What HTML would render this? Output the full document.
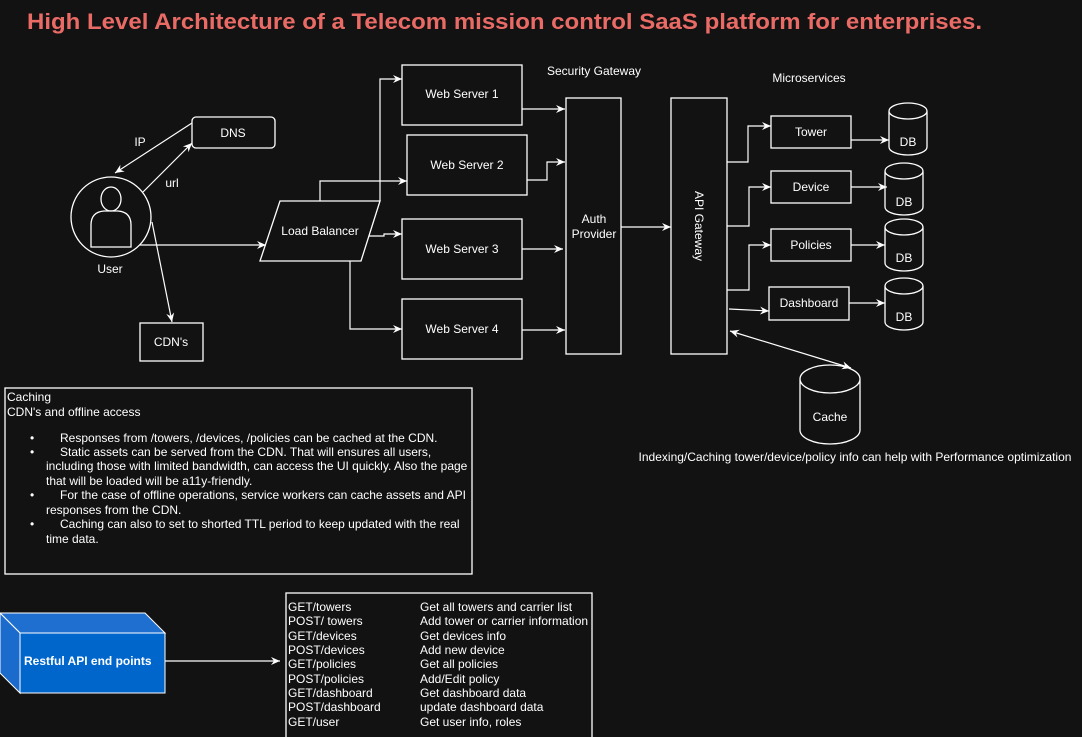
<!DOCTYPE html>
<html><head><meta charset="utf-8"><style>
html,body{margin:0;padding:0;background:#121212;}
svg{display:block;font-family:"Liberation Sans",Arial,sans-serif;}
</style></head><body>
<svg width="1082" height="737" viewBox="0 0 1082 737" xmlns="http://www.w3.org/2000/svg">
<defs>
<marker id="a" markerWidth="10" markerHeight="10" refX="9" refY="5" orient="auto" markerUnits="userSpaceOnUse">
<path d="M0,1 L9,5 L0,9 L3,5 Z" fill="#fff"/></marker>
<marker id="s" markerWidth="10" markerHeight="10" refX="1" refY="5" orient="auto" markerUnits="userSpaceOnUse">
<path d="M10,1 L1,5 L10,9 L7,5 Z" fill="#fff"/></marker>
</defs>
<rect width="1082" height="737" fill="#121212"/>
<text x="27" y="29" fill="#EA6B66" font-size="22" font-weight="bold" textLength="955" lengthAdjust="spacingAndGlyphs">High Level Architecture of a Telecom mission control SaaS platform for enterprises.</text>

<g fill="none" stroke="#fff" stroke-width="1.3">
<!-- DNS -->
<rect x="192" y="117" width="83" height="31" rx="4"/>
<!-- user -->
<circle cx="111" cy="217" r="40"/>
<ellipse cx="111" cy="199" rx="10" ry="12"/>
<path d="M91,247 L91,225 Q91,212 104,211 L118,211 Q131,212 131,225 L131,247 Z"/>
<rect x="140" y="323" width="63" height="38"/>
<polygon points="280,201 380,201 361,261 260,261"/>
<rect x="402" y="65" width="120" height="60"/>
<rect x="407" y="135" width="120" height="60"/>
<rect x="402" y="219" width="120" height="60"/>
<rect x="402" y="299" width="120" height="60"/>
<rect x="566" y="98" width="55" height="256"/>
<rect x="671" y="98" width="56" height="256"/>
<rect x="771" y="116" width="80" height="32"/>
<rect x="771" y="171" width="80" height="32"/>
<rect x="771" y="229" width="80" height="32"/>
<rect x="769" y="287" width="80" height="33"/>
<!-- DBs -->
<path d="M889,111 A19,8 0 0 1 927,111 L927,147 A19,8 0 0 1 889,147 Z M889,111 A19,8 0 0 0 927,111"/>
<path d="M885,171 A19,8 0 0 1 923,171 L923,207 A19,8 0 0 1 885,207 Z M885,171 A19,8 0 0 0 923,171"/>
<path d="M885,227 A19,8 0 0 1 923,227 L923,263 A19,8 0 0 1 885,263 Z M885,227 A19,8 0 0 0 923,227"/>
<path d="M885,286 A19,8 0 0 1 923,286 L923,322 A19,8 0 0 1 885,322 Z M885,286 A19,8 0 0 0 923,286"/>
<path d="M800,379 A30,14 0 0 1 860,379 L860,430 A30,14 0 0 1 800,430 Z M800,379 A30,14 0 0 0 860,379"/>
<!-- boxes -->
<rect x="5" y="388" width="467" height="186"/>
<rect x="286" y="593" width="306" height="150"/>
</g>
<!-- restful -->
<polygon points="0,613 145,613 165,633 20,633" fill="#1F6FD0" stroke="#fff" stroke-width="1"/>
<polygon points="0,613 20,633 20,693 0,673" fill="#1A6BCB" stroke="#fff" stroke-width="1"/>
<rect x="20" y="633" width="145" height="60" fill="#0066CC" stroke="#fff" stroke-width="1"/>
<text x="24" y="665" fill="#fff" font-size="12" font-weight="bold">Restful API end points</text>

<g fill="none" stroke="#fff" stroke-width="1.2">
<line x1="143" y1="192" x2="192" y2="143" marker-end="url(#a)"/>
<line x1="192" y1="123" x2="115" y2="173" marker-end="url(#a)"/>
<line x1="152" y1="222" x2="172" y2="322" marker-end="url(#a)"/>
<line x1="140" y1="245" x2="266" y2="245" marker-end="url(#a)"/>
<polyline points="380,201 380,79 402,79" marker-end="url(#a)"/>
<polyline points="320,201 320,181 407,181" marker-end="url(#a)"/>
<polyline points="369,236 384,236 384,234 402,234" marker-end="url(#a)"/>
<polyline points="350,261 350,329 402,329" marker-end="url(#a)"/>
<line x1="522" y1="109" x2="565" y2="109" marker-end="url(#a)"/>
<polyline points="527,180 547,180 547,162 565,162" marker-end="url(#a)"/>
<line x1="522" y1="249" x2="563" y2="249" marker-end="url(#a)"/>
<line x1="522" y1="330" x2="565" y2="330" marker-end="url(#a)"/>
<line x1="621" y1="227" x2="671" y2="227" marker-end="url(#a)"/>
<polyline points="727,162 748,162 748,126 771,126" marker-end="url(#a)"/>
<polyline points="727,226 749,226 749,187 771,187" marker-end="url(#a)"/>
<polyline points="727,290 749,290 749,245 771,245" marker-end="url(#a)"/>
<line x1="729" y1="309" x2="769" y2="311" marker-end="url(#a)"/>
<line x1="851" y1="140" x2="889" y2="140" marker-end="url(#a)"/>
<line x1="851" y1="187" x2="887" y2="187" marker-end="url(#a)"/>
<line x1="851" y1="245" x2="885" y2="245" marker-end="url(#a)"/>
<line x1="849" y1="303" x2="885" y2="303" marker-end="url(#a)"/>
<line x1="730" y1="331" x2="851" y2="368" marker-start="url(#s)" marker-end="url(#a)"/>
<line x1="165" y1="661" x2="280" y2="661" marker-end="url(#a)"/>
</g>

<g fill="#fff" font-size="12" text-anchor="middle">
<text x="233" y="137">DNS</text>
<text x="140" y="146">IP</text>
<text x="172" y="187">url</text>
<text x="110" y="273">User</text>
<text x="171" y="346">CDN's</text>
<text x="320" y="235">Load Balancer</text>
<text x="462" y="98">Web Server 1</text>
<text x="467" y="169">Web Server 2</text>
<text x="462" y="253">Web Server 3</text>
<text x="462" y="333">Web Server 4</text>
<text x="594" y="75">Security Gateway</text>
<text x="594" y="223">Auth</text>
<text x="594" y="238">Provider</text>
<text x="809" y="82">Microservices</text>
<text transform="translate(695,226) rotate(90)">API Gateway</text>
<text x="811" y="136">Tower</text>
<text x="811" y="191">Device</text>
<text x="811" y="249">Policies</text>
<text x="809" y="307">Dashboard</text>
<text x="908" y="146">DB</text>
<text x="904" y="206">DB</text>
<text x="904" y="262">DB</text>
<text x="904" y="321">DB</text>
<text x="830" y="421">Cache</text>
<text x="855" y="461">Indexing/Caching tower/device/policy info can help with Performance optimization</text>
</g>

<g fill="#fff" font-size="12">
<text x="7" y="401">Caching</text>
<text x="7" y="416">CDN's and offline access</text>
<text x="30" y="442">•</text><text x="60" y="442">Responses from /towers, /devices, /policies can be cached at the CDN.</text>
<text x="30" y="456">•</text><text x="60" y="456">Static assets can be served from the CDN. That will ensures all users,</text>
<text x="46" y="470">including those with limited bandwidth, can access the UI quickly. Also the page</text>
<text x="46" y="485">that will be loaded will be a11y-friendly.</text>
<text x="30" y="499">•</text><text x="60" y="499">For the case of offline operations, service workers can cache assets and API</text>
<text x="46" y="514">responses from the CDN.</text>
<text x="30" y="528">•</text><text x="60" y="528">Caching can also to set to shorted TTL period to keep updated with the real</text>
<text x="46" y="543">time data.</text>
</g>

<g fill="#fff" font-size="12">
<text x="288" y="611">GET/towers</text><text x="420" y="611">Get all towers and carrier list</text>
<text x="288" y="625">POST/ towers</text><text x="420" y="625">Add tower or carrier information</text>
<text x="288" y="640">GET/devices</text><text x="420" y="640">Get devices info</text>
<text x="288" y="654">POST/devices</text><text x="420" y="654">Add new device</text>
<text x="288" y="668">GET/policies</text><text x="420" y="668">Get all policies</text>
<text x="288" y="683">POST/policies</text><text x="420" y="683">Add/Edit policy</text>
<text x="288" y="697">GET/dashboard</text><text x="420" y="697">Get dashboard data</text>
<text x="288" y="711">POST/dashboard</text><text x="420" y="711">update dashboard data</text>
<text x="288" y="726">GET/user</text><text x="420" y="726">Get user info, roles</text>
</g>
</svg>
</body></html>
